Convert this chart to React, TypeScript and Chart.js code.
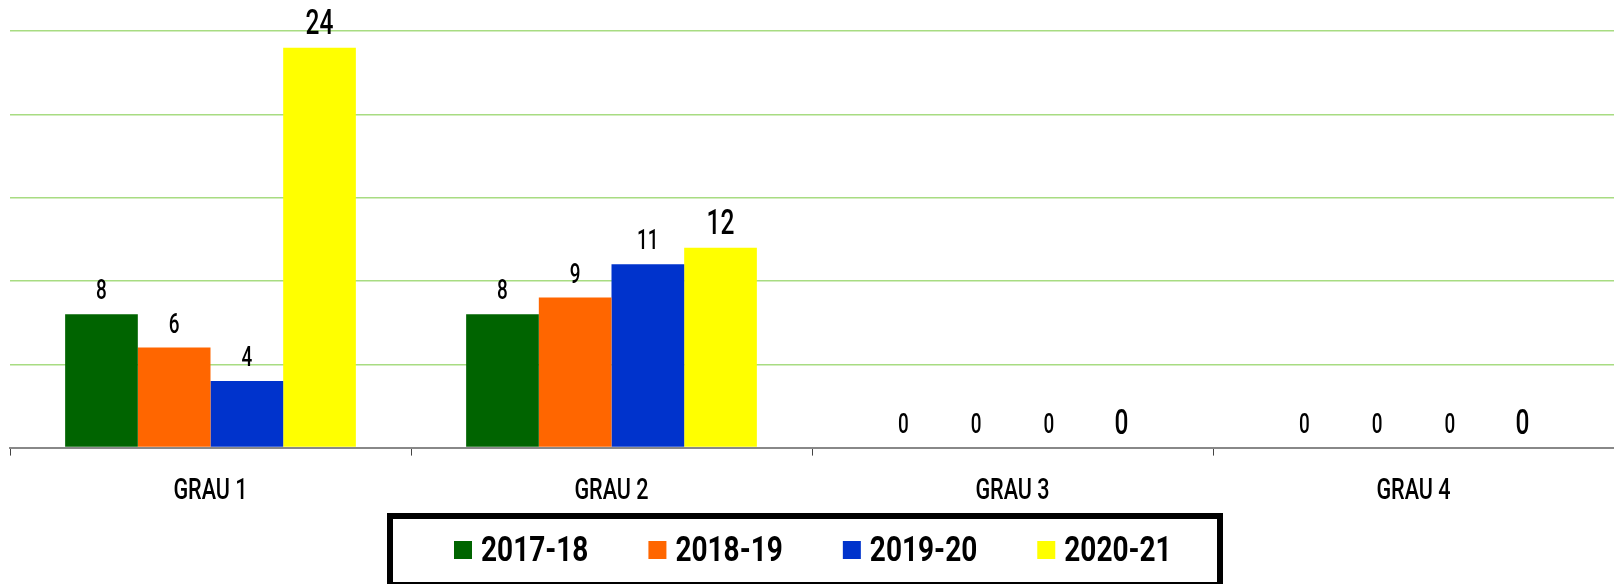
import React, { useEffect, useRef } from "react";
import { Chart, registerables } from "chart.js";

Chart.register(...registerables);

const categories = ["GRAU 1", "GRAU 2", "GRAU 3", "GRAU 4"];
const seriesLabels = ["2017-18", "2018-19", "2019-20", "2020-21"];
const values2017 = [8, 8, 0, 0];
const values2018 = [6, 9, 0, 0];
const values2019 = [4, 11, 0, 0];
const values2020 = [24, 12, 0, 0];
const seriesColors = ["#006400", "#FF6600", "#0033CC", "#FFFF00"];
const yMax = 25;
const yStep = 5;

const FONT = "Roboto, sans-serif";

function drawNarrowText(
  ctx: CanvasRenderingContext2D,
  text: string,
  x: number,
  y: number,
  font: string,
  scaleX: number,
  align: CanvasTextAlign
) {
  ctx.save();
  ctx.font = font;
  ctx.textAlign = align;
  ctx.translate(x, y);
  ctx.scale(scaleX, 1);
  ctx.fillText(text, 0, 0);
  ctx.restore();
}

const valueLabelPlugin = {
  id: "valueLabels",
  afterDatasetsDraw(chart: any) {
    const ctx = chart.ctx;
    ctx.save();
    ctx.fillStyle = "#000";
    ctx.textBaseline = "alphabetic";
    chart.data.datasets.forEach((ds: any, i: number) => {
      const meta = chart.getDatasetMeta(i);
      const big = i === 3;
      const font = `500 ${big ? 35 : 27}px ${FONT}`;
      meta.data.forEach((bar: any, j: number) => {
        drawNarrowText(ctx, String(ds.data[j]), bar.x, bar.y - (big ? 14 : 15), font, 0.7, "center");
      });
    });
    // category labels
    const xs = chart.scales.x;
    categories.forEach((c, i) => {
      drawNarrowText(ctx, c, xs.getPixelForTick(i), chart.chartArea.bottom + 51, `500 30px ${FONT}`, 0.72, "center");
    });
    ctx.restore();
  },
};

const boxLegendPlugin = {
  id: "boxLegend",
  afterDraw(chart: any) {
    const ctx = chart.ctx;
    const boxX = 387;
    const boxY = 513;
    const boxW = 836;
    const boxH = 75;
    ctx.save();
    ctx.lineWidth = 6;
    ctx.strokeStyle = "#000";
    ctx.strokeRect(boxX + 3, boxY + 3, boxW - 6, boxH - 6);
    const font = `bold 35px ${FONT}`;
    const scaleX = 0.8;
    ctx.textBaseline = "middle";
    const sq = 18;
    const gapText = 9;
    const gapItem = 60;
    const cy = 550;
    let x = boxX + 67;
    chart.data.datasets.forEach((ds: any) => {
      ctx.font = font;
      const tw = ctx.measureText(ds.label).width * scaleX;
      ctx.fillStyle = ds.backgroundColor;
      ctx.fillRect(x, cy - sq / 2, sq, sq);
      ctx.fillStyle = "#000";
      drawNarrowText(ctx, ds.label, x + sq + gapText, cy + 2, font, scaleX, "left");
      x += sq + gapText + tw + gapItem;
    });
    ctx.restore();
  },
};

export default function App() {
  const canvasRef = useRef<HTMLCanvasElement | null>(null);

  useEffect(() => {
    document.body.style.margin = "0";
    const canvas = canvasRef.current;
    if (!canvas) return;
    const data = [values2017, values2018, values2019, values2020];
    const chart = new Chart(canvas, {
      type: "bar",
      data: {
        labels: categories,
        datasets: seriesLabels.map((label, i) => ({
          label,
          data: data[i],
          backgroundColor: seriesColors[i],
          borderWidth: 0,
          categoryPercentage: 0.725,
          barPercentage: 1,
        })),
      },
      options: {
        responsive: false,
        animation: false,
        devicePixelRatio: 1,
        layout: { padding: { left: 10, right: 0, top: 31, bottom: 66 } },
        plugins: {
          legend: { display: false },
          tooltip: { enabled: false },
          title: { display: false },
        },
        scales: {
          x: {
            grid: {
              drawOnChartArea: false,
              drawTicks: true,
              tickLength: 8,
              color: "#444",
              lineWidth: 1,
            },
            border: { color: "#888", width: 2 },
            ticks: {
              font: { family: FONT, size: 27 },
              color: "rgba(0,0,0,0)",
              padding: 15,
            },
          },
          y: {
            min: 0,
            max: yMax,
            ticks: { stepSize: yStep, display: false },
            grid: { color: "#a8dc82", lineWidth: 1.5, drawTicks: false },
            border: { display: false },
          },
        },
      },
      plugins: [valueLabelPlugin, boxLegendPlugin],
    });
    return () => chart.destroy();
  }, []);

  return (
    <div style={{ position: "absolute", left: 0, top: 0, width: 1614, height: 584, background: "#fff" }}>
      <canvas ref={canvasRef} width={1614} height={584} style={{ display: "block" }} />
    </div>
  );
}
